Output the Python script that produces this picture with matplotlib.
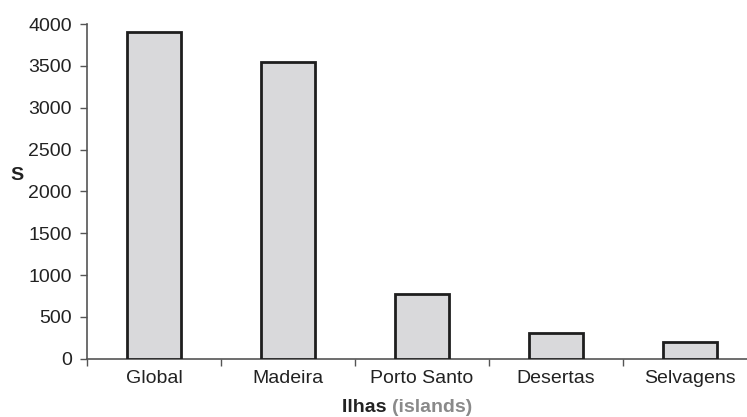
import matplotlib
matplotlib.use("Agg")
import matplotlib.pyplot as plt
import numpy as np

# data
islands = ["Global", "Madeira", "Porto Santo", "Desertas", "Selvagens"]
species = [3900, 3550, 775, 310, 205]
y_ticks = [0, 500, 1000, 1500, 2000, 2500, 3000, 3500, 4000]

plt.rcParams['font.family'] = ['Liberation Sans', 'DejaVu Sans']
text_col = "#222222"
axis_col = "#555555"
fs = 14

fig = plt.figure(figsize=(7.47, 4.17), dpi=100)
ax = fig.add_axes([87 / 747, 58.3 / 417, 670 / 747, 334.7 / 417])

x = np.arange(len(islands))
ax.bar(x, species, width=0.4, color="#d9d9db", edgecolor="#1e1e1e", linewidth=2, zorder=3)

ax.set_xlim(-0.5, len(islands) - 0.5)
ax.set_ylim(0, 4000)
ax.set_yticks(y_ticks)
ax.set_yticklabels([str(v) for v in y_ticks], fontsize=fs, color=text_col)
ax.set_xticks(x)
ax.set_xticklabels(islands, fontsize=fs, color=text_col)
ax.set_xticks(np.arange(len(islands) + 1) - 0.5, minor=True)
ax.tick_params(axis="x", which="major", length=0, pad=8)
ax.tick_params(axis="x", which="minor", length=5, width=1, color=axis_col, direction="out")
ax.tick_params(axis="y", length=5, width=1, color=axis_col, pad=6)

for side in ["top", "right"]:
    ax.spines[side].set_visible(False)
for side in ["left", "bottom"]:
    ax.spines[side].set_color(axis_col)
    ax.spines[side].set_linewidth(1.2)
ax.spines["bottom"].set_clip_on(False)

fig.text(17 / 747, 1 - 175 / 417, "S", fontsize=fs, fontweight="bold", color=text_col,
         ha="center", va="center")
t1 = fig.text(342 / 747, 1 - 407 / 417, "Ilhas ", fontsize=fs, fontweight="bold",
              color=text_col, ha="left", va="center")
fig.canvas.draw()
bb = t1.get_window_extent()
fig.text(bb.x1 / 747, 1 - 407 / 417, "(islands)", fontsize=fs, fontweight="bold",
         color="#8a8a8a", ha="left", va="center")

fig.savefig("out.png", dpi=100)
